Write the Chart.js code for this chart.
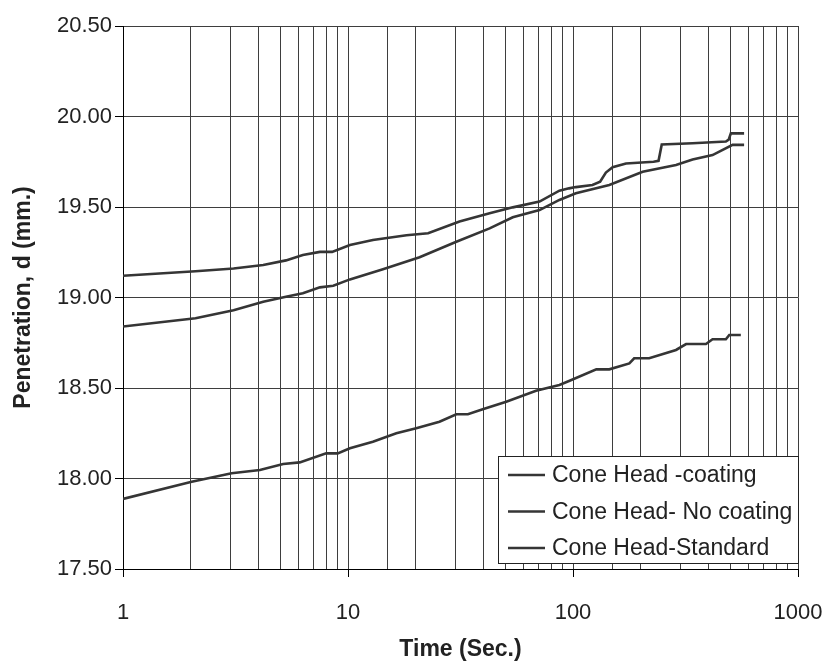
<!DOCTYPE html>
<html>
<head>
<meta charset="utf-8">
<title>Penetration vs Time</title>
<script src="https://cdn.jsdelivr.net/npm/chart.js@4.4.1/dist/chart.umd.min.js"></script>
<style>
  body { margin: 0; background: #fff; }
  #wrap { width: 827px; height: 663px; }
</style>
</head>
<body>
<div id="wrap"><canvas id="penChart" width="827" height="663"></canvas></div>
<script>
"use strict"

// DATA
const seriesNames = ['Cone Head -coating', 'Cone Head- No coating', 'Cone Head-Standard'];

const timeCoating = [1, 2.1, 3.1, 4.2, 5.3, 6.3, 7.5, 8.5, 10.2, 12.9, 18.2, 22.7, 31.3, 42.6, 54, 71, 87, 96, 103, 122, 132, 140, 150, 172, 228, 240, 248, 340, 478, 492, 503, 576];
const penCoating  = [19.12, 19.145, 19.16, 19.18, 19.205, 19.235, 19.252, 19.252, 19.29, 19.318, 19.344, 19.355, 19.42, 19.465, 19.498, 19.53, 19.59, 19.603, 19.61, 19.622, 19.64, 19.69, 19.72, 19.74, 19.75, 19.755, 19.845, 19.852, 19.862, 19.872, 19.907, 19.907];

const timeNoCoat = [1, 2.1, 3.1, 4.2, 5.3, 6.3, 7.5, 8.6, 10.2, 14.3, 20.8, 30.3, 42.6, 54, 71, 87, 103, 145, 204, 287, 340, 417, 512, 576];
const penNoCoat  = [18.84, 18.885, 18.93, 18.977, 19.004, 19.023, 19.056, 19.065, 19.10, 19.156, 19.222, 19.308, 19.382, 19.443, 19.483, 19.539, 19.576, 19.622, 19.695, 19.732, 19.763, 19.787, 19.843, 19.843];

const timeStandard = [1, 2.02, 3.04, 4.06, 5.15, 6.1, 8.0, 9.0, 10.2, 12.9, 16.4, 20.1, 25.5, 30.3, 34.1, 39.7, 50.5, 68.5, 87, 96, 127, 145, 178, 187, 218, 287, 318, 390, 417, 478, 495, 557];
const penStandard  = [17.887, 17.982, 18.029, 18.047, 18.08, 18.089, 18.139, 18.139, 18.167, 18.203, 18.25, 18.277, 18.314, 18.355, 18.355, 18.382, 18.424, 18.485, 18.517, 18.539, 18.603, 18.603, 18.636, 18.664, 18.664, 18.71, 18.743, 18.743, 18.769, 18.769, 18.793, 18.793];

const xLabels = [1, 10, 100, 1000];
const yMin = 17.5, yMax = 20.5, yStep = 0.5;

const FONT = '"Liberation Sans", Arial, sans-serif';
const LINE_COLOR = '#353535';
const GRID_COLOR = '#3e3e3e';

function toPoints(xs, ys) {
  return xs.map((x, i) => ({ x: x, y: ys[i] }));
}

function makeSet(label, xs, ys) {
  return {
    label: label,
    data: toPoints(xs, ys),
    borderColor: LINE_COLOR,
    backgroundColor: LINE_COLOR,
    borderWidth: 2.6,
    pointRadius: 0,
    tension: 0,
    fill: false
  };
}

// legend in a white box sitting inside the plot, bottom right
const boxLegend = {
  id: 'boxLegend',
  afterDatasetsDraw(chart) {
    const { ctx, chartArea } = chart;
    const w = 300, h = 107;
    const x0 = chartArea.right - w;
    const y0 = chartArea.bottom - 6 - h;
    ctx.save();
    ctx.fillStyle = '#fff';
    ctx.fillRect(x0, y0, w, h);
    ctx.strokeStyle = '#222';
    ctx.lineWidth = 1;
    ctx.strokeRect(x0 + 0.5, y0 + 0.5, w, h);
    ctx.font = '23px ' + FONT;
    ctx.textBaseline = 'middle';
    ctx.textAlign = 'left';
    chart.data.datasets.forEach((ds, i) => {
      const y = y0 + 19 + i * 36.5;
      ctx.strokeStyle = ds.borderColor;
      ctx.lineWidth = 2.5;
      ctx.beginPath();
      ctx.moveTo(x0 + 10, y);
      ctx.lineTo(x0 + 47, y);
      ctx.stroke();
      ctx.fillStyle = '#222';
      ctx.fillText(ds.label, x0 + 54, y + 1);
    });
    ctx.restore();
  }
};

const config = {
  type: 'line',
  data: {
    datasets: [
      makeSet(seriesNames[0], timeCoating, penCoating),
      makeSet(seriesNames[1], timeNoCoat, penNoCoat),
      makeSet(seriesNames[2], timeStandard, penStandard)
    ]
  },
  options: {
    responsive: false,
    animation: false,
    layout: { padding: { top: 26, right: 4, left: 0, bottom: 0 } },
    plugins: {
      legend: { display: false },
      tooltip: { enabled: false }
    },
    scales: {
      x: {
        type: 'logarithmic',
        min: 1,
        max: 1000,
        afterFit(s) {
          s.height = 94;
          // tick padding is also counted at the ends, keep only what the last label needs
          s.paddingLeft = 0;
          s.paddingRight = 29;
        },
        border: { display: true, color: '#000', width: 1 },
        grid: {
          color: GRID_COLOR,
          lineWidth: 1,
          tickLength: 8,
          tickColor: c => xLabels.includes(c.tick && c.tick.value) ? '#000' : 'rgba(0,0,0,0)'
        },
        ticks: {
          autoSkip: false,
          maxRotation: 0,
          padding: 23,
          color: '#222',
          font: { family: FONT, size: 22 },
          callback: v => xLabels.includes(v) ? String(v) : ''
        },
        title: {
          display: true,
          text: 'Time (Sec.)',
          color: '#222',
          font: { family: FONT, size: 23, weight: 'bold' },
          padding: { top: 0, bottom: 0 }
        }
      },
      y: {
        min: yMin,
        max: yMax,
        afterFit(s) { s.width = 123; },
        border: { display: true, color: '#000', width: 1 },
        grid: {
          color: GRID_COLOR,
          lineWidth: 1,
          tickLength: 8,
          tickColor: '#000'
        },
        ticks: {
          stepSize: yStep,
          padding: 3,
          color: '#222',
          font: { family: FONT, size: 22 },
          callback: v => Number(v).toFixed(2)
        },
        title: {
          display: true,
          text: 'Penetration, d (mm.)',
          color: '#222',
          font: { family: FONT, size: 23, weight: 'bold' },
          padding: { top: 10, bottom: 0 }
        }
      }
    }
  },
  plugins: [boxLegend]
};

const penChart = new Chart(document.getElementById('penChart'), config);
</script>
</body>
</html>
